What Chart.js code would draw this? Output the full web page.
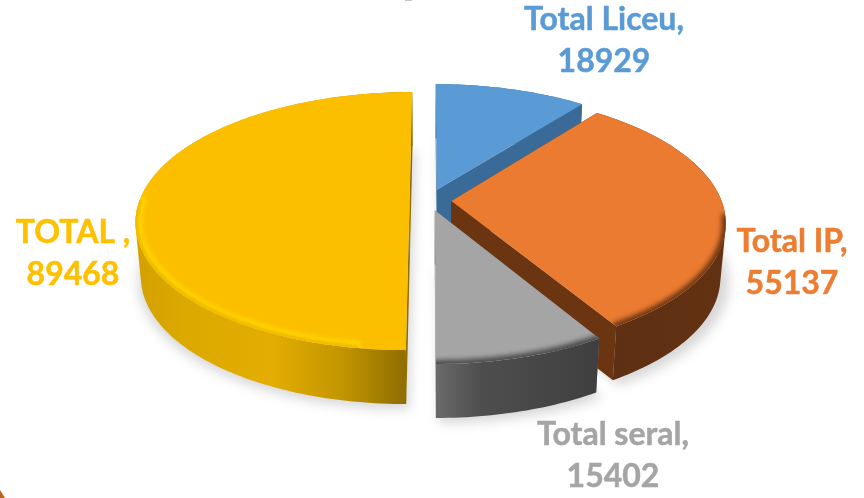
<!DOCTYPE html>
<html>
<head>
<meta charset="utf-8">
<style>html,body{margin:0;padding:0;background:#fff}canvas{display:block}</style>
<script src="https://cdn.jsdelivr.net/npm/chart.js@4"></script>
</head>
<body>
<canvas id="c" width="864" height="498"></canvas>
<script>
const categories = ['Total Liceu', 'Total IP', 'Total seral', 'TOTAL'];
const labelHeads = ['Total Liceu,', 'Total IP,', 'Total seral,', 'TOTAL ,'];
const values = [18929, 55137, 15402, 89468];
const explode = [9, 8.3, 8, 7.2];
const colors = ['#5B9BD5', '#EB7B30', '#A5A5A5', '#FBBF00'];
const labelColors = ['#5B9BD5', '#ED7D31', '#A5A5A5', '#FFC000'];
const edgeColors = ['#3A6A97', '#6B3512', '#777777', '#8E6C00'];
const labelPos = [[604, 30], [792, 252], [613, 445], [73, 243]];

const VIEW = {ox: 429, oy: 200.4, a: 270, b: 125.7, k: 0.16, depth: 54, shrink: 0.982};

const wallRamps = [
  [[430,'#3A6A97'],[600,'#3A6A97']],
  [[600,'#5E2F12'],[740,'#633212']],
  [[436,'#6A6A6A'],[480,'#4E4E4E'],[600,'#3F3F3F']],
  [[130,'#D2A000'],[180,'#DBA800'],[270,'#E3AE00'],[340,'#C49600'],[410,'#8C6B00']]
];

function wallFill(ctx, i){
  const st = wallRamps[i], x0 = st[0][0], x1 = st[st.length-1][0];
  const g = ctx.createLinearGradient(x0, 0, x1, 0);
  st.forEach(s=>g.addColorStop((s[0]-x0)/(x1-x0), s[1]));
  return g;
}
function project(u, v){
  const w = 1 - VIEW.k * v;
  return [VIEW.ox + VIEW.a * u / w, VIEW.oy + VIEW.b * v / w];
}
function down(p){
  return [VIEW.ox + (p[0] - VIEW.ox) * VIEW.shrink, p[1] + VIEW.depth];
}
function rimPoints(arc, t0, t1){
  const d = arc.options.offset / 100;
  const s = arc.startAngle + Math.PI / 2, e = arc.endAngle + Math.PI / 2;
  const mid = (s + e) / 2, du = d * Math.sin(mid), dv = -d * Math.cos(mid);
  const a0 = t0 === undefined ? s : t0, a1 = t1 === undefined ? e : t1;
  const n = Math.max(2, Math.ceil((a1 - a0) / 0.02)), pts = [];
  for (let i = 0; i <= n; i++) {
    const t = a0 + (a1 - a0) * i / n;
    pts.push(project(du + Math.sin(t), dv - Math.cos(t)));
  }
  return {pts, apex: project(du, dv)};
}
function trace(ctx, pts){
  pts.forEach((p,i)=> i ? ctx.lineTo(p[0],p[1]) : ctx.moveTo(p[0],p[1]));
}
function area(q){
  let s = 0;
  q.forEach((p,i)=>{ const n = q[(i+1)%q.length]; s += p[0]*n[1] - n[0]*p[1]; });
  return s;
}

const rimStyles = [
  null,
  {from: 1.7, to: 2.6, color: '#6B3512', width: 8, blur: 2.5},
  {from: 2.6, to: 3.1416, color: '#4A4A4A', width: 8, blur: 2.5},
  {from: 3.3, to: 4.7, color: '#FFD400', width: 14, blur: 2, edge: '#F2BA00'}
];

const pie3d = {
  id: 'pie3d',
  beforeDatasetsDraw(chart){
    const ctx = chart.ctx, arcs = chart.getDatasetMeta(0).data;
    ctx.save();
    ctx.filter = 'blur(6px)';
    arcs.forEach(arc=>{
      const {pts, apex} = rimPoints(arc);
      const poly = [apex, ...pts];
      ctx.fillStyle = 'rgba(0,0,0,0.16)';
      ctx.beginPath();
      trace(ctx, poly.map(p=>[p[0]+3, p[1]+VIEW.depth+5]));
      ctx.closePath();
      ctx.fill();
    });
    ctx.restore();

    arcs.forEach((arc,i)=>{
      const {pts, apex} = rimPoints(arc);
      // straight walls
      ctx.fillStyle = edgeColors[i];
      [pts[0], pts[pts.length-1]].forEach(p=>{
        ctx.beginPath();
        trace(ctx, [apex, p, down(p), down(apex)]);
        ctx.closePath();
        ctx.fill();
      });
      // curved wall: one path of like-wound quads, so no seams show
      ctx.fillStyle = wallFill(ctx, i);
      ctx.beginPath();
      for (let j = 0; j < pts.length - 1; j++) {
        const p = pts[j], q = pts[j+1];
        let quad = [p, q, down(q), down(p)];
        if (area(quad) < 0) quad = quad.reverse();
        trace(ctx, quad);
        ctx.closePath();
      }
      ctx.fill();
      // top face
      ctx.save();
      ctx.beginPath();
      trace(ctx, [apex, ...pts]);
      ctx.closePath();
      ctx.fillStyle = colors[i];
      ctx.fill();
      ctx.clip();
      const r = rimStyles[i];
      if (r) {
        const rim = rimPoints(arc, r.from, r.to).pts;
        ctx.filter = 'blur(' + r.blur + 'px)';
        ctx.lineCap = 'round';
        ctx.strokeStyle = r.color;
        ctx.lineWidth = r.width;
        ctx.beginPath(); trace(ctx, rim); ctx.stroke();
        if (r.edge) {
          ctx.filter = 'blur(1.2px)';
          ctx.strokeStyle = r.edge;
          ctx.lineWidth = 6;
          ctx.beginPath(); trace(ctx, rim); ctx.stroke();
        }
      }
      ctx.restore();
    });
    return false;
  },
  afterDraw(chart){
    const ctx = chart.ctx;
    ctx.save();
    ctx.font = 'bold 32px Lato, "Open Sans", sans-serif';
    ctx.textAlign = 'center';
    ctx.textBaseline = 'alphabetic';
    ctx.lineWidth = 0.5;
    ctx.lineJoin = 'round';
    labelHeads.forEach((h,i)=>{
      ctx.fillStyle = labelColors[i];
      ctx.strokeStyle = labelColors[i];
      [[h, 0], [String(values[i]), 42]].forEach(([t, dy])=>{
        ctx.fillText(t, labelPos[i][0], labelPos[i][1] + dy);
        ctx.strokeText(t, labelPos[i][0], labelPos[i][1] + dy);
      });
    });
    // clipped remnants at the picture edges
    ctx.fillStyle = '#B5651D';
    ctx.beginPath(); ctx.moveTo(0,490); ctx.lineTo(5,498); ctx.lineTo(0,498); ctx.closePath(); ctx.fill();
    ctx.fillStyle = '#C4C4C4';
    ctx.fillRect(405,0,7,1);
    ctx.restore();
  }
};

new Chart(document.getElementById('c').getContext('2d'), {
  type: 'pie',
  data: {
    labels: categories,
    datasets: [{data: values, backgroundColor: colors, borderWidth: 0, offset: explode, hoverOffset: 0}]
  },
  options: {
    responsive: false,
    animation: false,
    events: [],
    plugins: {legend: {display: false}, title: {display: false}, tooltip: {enabled: false}}
  },
  plugins: [pie3d]
});
</script>
</body>
</html>
